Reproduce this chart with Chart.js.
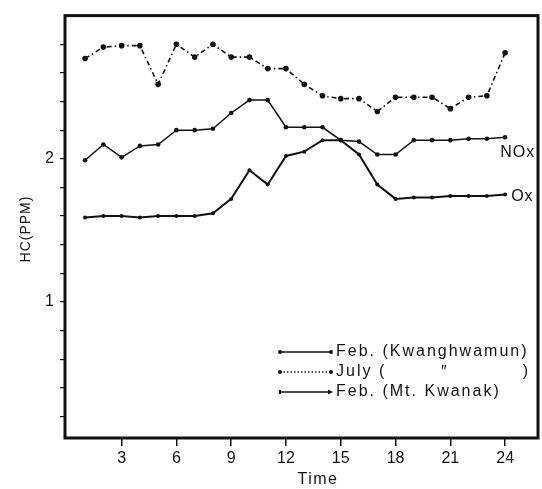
<!DOCTYPE html>
<html>
<head>
<meta charset="utf-8">
<script src="https://cdn.jsdelivr.net/npm/chart.js@4/dist/chart.umd.min.js"></script>
<style>
  html, body { margin: 0; padding: 0; background: #fff; }
  #wrap { width: 542px; height: 489px; }
</style>
</head>
<body>
<div id="wrap"><canvas id="c" width="542" height="489"></canvas></div>
<script>
// Hour of day
const hours = [1,2,3,4,5,6,7,8,9,10,11,12,13,14,15,16,17,18,19,20,21,22,23,24];

// HC concentration (ppm)
const febKwanghwamun = [1.99,2.10,2.01,2.09,2.10,2.20,2.20,2.21,2.32,2.41,2.41,2.22,
                        2.22,2.22,2.13,2.12,2.03,2.03,2.13,2.13,2.13,2.14,2.14,2.15];
const julyKwanghwamun = [2.70,2.78,2.79,2.79,2.52,2.80,2.71,2.80,2.71,2.71,2.63,2.63,
                         2.52,2.44,2.42,2.42,2.33,2.43,2.43,2.43,2.35,2.43,2.44,2.74];
const febKwanak = [1.59,1.60,1.60,1.59,1.60,1.60,1.60,1.62,1.72,1.92,1.82,2.02,
                   2.05,2.13,2.13,2.03,1.82,1.72,1.73,1.73,1.74,1.74,1.74,1.75];

const seriesNames = ['Feb. (Kwanghwamun)', 'July (', 'Feb. (Mt. Kwanak)'];
const endLabels = ['NOx', '', 'Ox'];

const xTickValues = [3,6,9,12,15,18,21,24];
const yTickLabels = [1,2];

const INK = '#111';
const FONT = '"Liberation Sans", Arial, sans-serif';

const toPoints = arr => arr.map((v, i) => ({ x: hours[i], y: v }));

const extras = {
  id: 'extras',
  afterDraw(chart) {
    const ctx = chart.ctx;
    const a = chart.chartArea;
    ctx.save();

    // heavy frame around the plot
    ctx.strokeStyle = INK;
    ctx.lineWidth = 3;
    ctx.setLineDash([]);
    ctx.strokeRect(a.left, a.top, a.right - a.left, a.bottom - a.top);

    ctx.fillStyle = INK;

    // axis titles
    ctx.textAlign = 'center';
    ctx.textBaseline = 'middle';
    ctx.font = '16px ' + FONT;
    ctx.letterSpacing = '1.5px';
    ctx.fillText('Time', 318, 480);
    ctx.font = '14px ' + FONT;
    ctx.letterSpacing = '1px';
    ctx.save();
    ctx.translate(26, 229);
    ctx.rotate(-Math.PI / 2);
    ctx.fillText('HC(PPM)', 0, 0);
    ctx.restore();

    // series end labels
    ctx.font = '16px ' + FONT;
    ctx.textAlign = 'left';
    ctx.letterSpacing = '1px';
    const m0 = chart.getDatasetMeta(0).data;
    const p0 = m0[m0.length - 1];
    ctx.fillText(endLabels[0], p0.x - 5, p0.y + 15);
    const m2 = chart.getDatasetMeta(2).data;
    const p2 = m2[m2.length - 1];
    ctx.fillText(endLabels[2], p2.x + 6, p2.y + 2);

    // legend
    const x0 = 280, x1 = 331, tx = 336;
    const rows = [a.bottom - 86, a.bottom - 66, a.bottom - 46];
    ctx.lineWidth = 1.3;
    rows.forEach((y, i) => {
      ctx.strokeStyle = INK;
      ctx.setLineDash(i === 1 ? [1.5, 2] : []);
      ctx.beginPath();
      ctx.moveTo(x0, y);
      ctx.lineTo(x1, y);
      ctx.stroke();
      ctx.setLineDash([]);
      if (i < 2) {
        [x0, x1].forEach(x => {
          ctx.beginPath();
          ctx.arc(x, y, 2, 0, Math.PI * 2);
          ctx.fill();
        });
      } else {
        ctx.fillRect(x0 - 1, y - 2, 2, 4);
        ctx.beginPath();
        ctx.moveTo(x1 + 2, y);
        ctx.lineTo(x1 - 3, y - 2.5);
        ctx.lineTo(x1 - 3, y + 2.5);
        ctx.closePath();
        ctx.fill();
      }
    });
    ctx.font = '16px ' + FONT;
    ctx.letterSpacing = '2px';
    ctx.textAlign = 'left';
    ctx.fillText(seriesNames[0], tx, rows[0]);
    ctx.fillText(seriesNames[1], tx, rows[1]);
    ctx.fillText('\u2033', 441, rows[1] + 1);
    ctx.textAlign = 'right';
    ctx.fillText(')', 530, rows[1]);
    ctx.textAlign = 'left';
    ctx.fillText(seriesNames[2], tx, rows[2]);

    ctx.restore();
  }
};

new Chart(document.getElementById('c'), {
  type: 'line',
  data: {
    datasets: [
      {
        label: seriesNames[0],
        data: toPoints(febKwanghwamun),
        borderColor: INK,
        backgroundColor: INK,
        borderWidth: 1.5,
        pointRadius: 2.3,
        pointBackgroundColor: INK,
        pointBorderWidth: 0,
        tension: 0
      },
      {
        label: seriesNames[1],
        data: toPoints(julyKwanghwamun),
        borderColor: INK,
        backgroundColor: INK,
        borderWidth: 1.6,
        borderDash: [5, 3, 1.5, 3],
        pointRadius: 2.8,
        pointBackgroundColor: INK,
        pointBorderWidth: 0,
        tension: 0
      },
      {
        label: seriesNames[2],
        data: toPoints(febKwanak),
        borderColor: INK,
        backgroundColor: INK,
        borderWidth: 2,
        pointRadius: 2,
        pointBackgroundColor: INK,
        pointBorderWidth: 0,
        tension: 0
      }
    ]
  },
  options: {
    responsive: false,
    animation: false,
    devicePixelRatio: 1,
    layout: { padding: { top: 10, right: 2, left: 0, bottom: 0 } },
    plugins: { legend: { display: false }, tooltip: { enabled: false } },
    scales: {
      x: {
        type: 'linear',
        min: -0.1,
        max: 25.8,
        afterFit: s => { s.height = 51; },
        afterBuildTicks: s => { s.ticks = xTickValues.map(v => ({ value: v })); },
        border: { display: false },
        grid: { drawOnChartArea: false, tickLength: 8, color: INK, lineWidth: 1.5 },
        ticks: {
          color: INK,
          padding: 3,
          maxRotation: 0,
          autoSkip: false,
          font: { family: FONT, size: 16 }
        }
      },
      y: {
        type: 'linear',
        min: 0.05,
        max: 3.0,
        afterFit: s => { s.width = 65; },
        afterBuildTicks: s => {
          const t = [];
          for (let k = 1; k <= 14; k++) t.push({ value: k / 5 });
          s.ticks = t;
        },
        border: { display: false },
        grid: { drawOnChartArea: false, tickLength: 5, color: INK, lineWidth: 1.2 },
        ticks: {
          color: INK,
          padding: 6,
          autoSkip: false,
          font: { family: FONT, size: 16 },
          callback: v => {
            const hit = yTickLabels.find(l => Math.abs(l - v) < 1e-6);
            return hit === undefined ? '' : String(hit);
          }
        }
      }
    }
  },
  plugins: [extras]
});
</script>
</body>
</html>
